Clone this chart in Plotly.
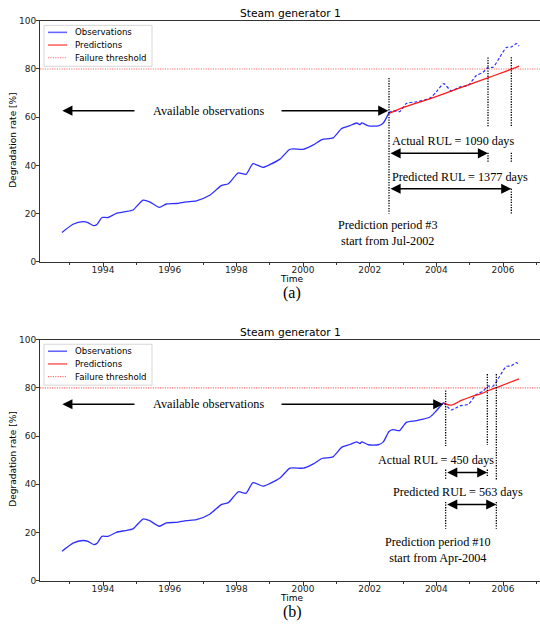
import plotly.graph_objects as go

# ---------------- data ----------------
obs_years = [1992.77, 1993.10, 1993.40, 1993.55, 1993.72, 1993.82, 1993.97, 1994.15, 1994.40, 1994.66,
             1994.90, 1995.20, 1995.40, 1995.69, 1995.90, 1996.20, 1996.50, 1996.80, 1997.20, 1997.56,
             1997.76, 1998.06, 1998.29, 1998.50, 1998.80, 1999.00, 1999.31, 1999.61, 2000.01, 2000.31,
             2000.57, 2000.90, 2001.16, 2001.41, 2001.61, 2001.71, 2001.76, 2001.96, 2002.26, 2002.41,
             2002.58, 2002.70, 2002.90, 2003.10, 2003.40, 2003.80, 2004.00, 2004.22, 2004.45, 2004.70,
             2004.96, 2005.20, 2005.40, 2005.55, 2005.70, 2005.90, 2006.10, 2006.25, 2006.40, 2006.48]
obs_values = [12.2, 15.6, 16.7, 16.3, 15.0, 15.5, 18.4, 18.4, 20.1, 20.8,
              21.5, 25.6, 24.9, 22.6, 24.0, 24.2, 24.9, 25.3, 27.6, 31.7,
              32.4, 36.9, 36.3, 40.7, 39.2, 40.3, 42.6, 46.7, 46.7, 48.5,
              50.7, 51.4, 55.3, 56.5, 57.6, 56.9, 57.6, 56.4, 56.4, 57.6,
              61.9, 62.7, 62.3, 65.7, 66.4, 67.8, 70.5, 73.9, 70.9, 72.5,
              73.2, 77.3, 78.6, 80.7, 80.7, 84.8, 88.9, 89.1, 90.5, 89.5]

pred_a_years = [2002.58, 2003.0, 2003.8, 2004.6, 2005.5, 2006.0, 2006.25, 2006.48]
pred_a_values = [61.6, 64.0, 67.6, 71.6, 76.1, 78.6, 79.9, 81.2]
pred_b_years = [2004.22, 2004.45, 2004.75, 2005.0, 2005.35, 2005.6, 2005.8, 2006.48]
pred_b_values = [73.7, 72.8, 74.8, 76.1, 77.6, 79.1, 80.1, 83.7]

failure_threshold = 80
start_a, start_b = 2002.58, 2004.22          # prediction period start (Jul-2002, Apr-2004)
actual_end_a, predicted_end_a = 2005.55, 2006.25   # 1090 / 1377 days
actual_end_b, predicted_end_b = 2005.53, 2005.80   # 450 / 563 days

x_tick_years = [1994, 1996, 1998, 2000, 2002, 2004, 2006]
y_ticks = [0, 20, 40, 60, 80, 100]

W, H = 540, 632
SANS = "DejaVu Sans"
SERIF = "Liberation Serif"
BLUE = "rgba(0,0,255,0.82)"
RED = "rgba(255,0,0,0.9)"
AX = "#333333"
DOTS = "1.3px,1.3px"


def py(p):
    return 1 - p / H


fig = go.Figure()

panels = [
    dict(xr="x", yr="y", top=16, start=start_a, act=actual_end_a, pre=predicted_end_a,
         pt=pred_a_years, pv=pred_a_values, avail_y=62.7, avail_head=2002.56,
         act_txt="Actual RUL = 1090 days", act_txt_xy=(2004.51, 50.3), act_arrow_y=45.0,
         pre_txt="Predicted RUL = 1377 days", pre_txt_xy=(2004.70, 35.4), pre_arrow_y=30.3,
         period_txt="Prediction period #3<br>start from Jul-2002", period_xy=(2002.56, 12.1),
         vlines=[(start_a, 76.3, 20.1), (actual_end_a, 84.8, 56.2), (actual_end_a, 45.3, 41.2),
                 (predicted_end_a, 84.9, 56.3), (predicted_end_a, 45.3, 41.2), (predicted_end_a, 30.3, 20.1)],
         label="(a)", label_y=293),
    dict(xr="x2", yr="y2", top=340, start=start_b, act=actual_end_b, pre=predicted_end_b,
         pt=pred_b_years, pv=pred_b_values, avail_y=73.2, avail_head=2004.21,
         act_txt="Actual RUL = 450 days", act_txt_xy=(2003.98, 50.1), act_arrow_y=44.9,
         pre_txt="Predicted RUL = 563 days", pre_txt_xy=(2004.66, 36.7), pre_arrow_y=31.6,
         period_txt="Prediction period #10<br>start from Apr-2004", period_xy=(2004.06, 12.9),
         vlines=[(2004.28, 78.9, 55.9), (2004.28, 46.1, 42.0), (2004.28, 32.7, 21.6),
                 (actual_end_b, 85.7, 56.3), (actual_end_b, 46.1, 42.9),
                 (predicted_end_b, 85.7, 42.0), (predicted_end_b, 32.7, 21.6)],
         label="(b)", label_y=617),
]

annotations = []
shapes = []

for p in panels:
    xr, yr = p["xr"], p["yr"]
    s = p["start"]
    solid_t = [t for t in obs_years if t <= s]
    solid_v = [v for t, v in zip(obs_years, obs_values) if t <= s]
    dash_t = [t for t in obs_years if t >= solid_t[-1]]
    dash_v = [v for t, v in zip(obs_years, obs_values) if t >= solid_t[-1]]
    fig.add_trace(go.Scatter(x=solid_t, y=solid_v, mode="lines", xaxis=xr, yaxis=yr, hoverinfo="skip",
                             line=dict(color=BLUE, width=1.3, shape="spline", smoothing=0.6)))
    fig.add_trace(go.Scatter(x=dash_t, y=dash_v, mode="lines", xaxis=xr, yaxis=yr, hoverinfo="skip",
                             line=dict(color=BLUE, width=1.2, dash="3px,2px", shape="spline", smoothing=0.6)))
    fig.add_trace(go.Scatter(x=p["pt"], y=p["pv"], mode="lines", xaxis=xr, yaxis=yr, hoverinfo="skip",
                             line=dict(color=RED, width=1.3, shape="spline", smoothing=0.6)))

    # failure threshold
    shapes.append(dict(type="line", xref=xr + " domain", yref=yr, x0=0, x1=1,
                       y0=failure_threshold, y1=failure_threshold,
                       line=dict(color="rgba(255,0,0,0.55)", width=1.1, dash="1.2px,1.2px")))
    # dotted vertical markers
    for (xv, y0, y1) in p["vlines"]:
        shapes.append(dict(type="line", xref=xr, yref=yr, x0=xv, x1=xv, y0=y0, y1=y1,
                           line=dict(color="black", width=1.3, dash=DOTS)))

    def arrow(x, y, ax, ay, both=False):
        d = dict(x=x, y=y, ax=ax, ay=ay, xref=xr, yref=yr, axref=xr, ayref=yr, text="",
                 showarrow=True, arrowhead=2, arrowsize=1.35, arrowwidth=1.5, arrowcolor="black",
                 standoff=0, startstandoff=0)
        if both:
            d.update(arrowside="end+start", startarrowhead=2, startarrowsize=1.35)
        return d

    def text(x, y, t, size=12.2):
        return dict(x=x, y=y, xref=xr, yref=yr, text=t, showarrow=False,
                    font=dict(family=SERIF, size=size, color="black"))

    ya = p["avail_y"]
    annotations.append(text(1997.15, ya, "Available observations"))
    annotations.append(arrow(1992.78, ya, 1994.99, ya))
    annotations.append(arrow(p["avail_head"], ya, 1999.31, ya))
    annotations.append(text(*p["act_txt_xy"], p["act_txt"]))
    annotations.append(text(*p["pre_txt_xy"], p["pre_txt"]))
    annotations.append(text(*p["period_xy"], p["period_txt"]))
    x_start_line = p["vlines"][0][0]
    annotations.append(arrow(p["act"], p["act_arrow_y"], x_start_line, p["act_arrow_y"], both=True))
    annotations.append(arrow(p["pre"], p["pre_arrow_y"], x_start_line, p["pre_arrow_y"], both=True))

    top = p["top"]
    # title, axis titles, panel label
    annotations.append(dict(xref="paper", yref="paper", x=290 / W, y=py(top - 7), text="Steam generator 1",
                            showarrow=False, font=dict(family=SANS, size=10.7, color="black"),
                            xanchor="center", yanchor="middle"))
    annotations.append(dict(xref="paper", yref="paper", x=13 / W, y=py(top + 122), text="Degradation rate [%]",
                            textangle=-90, showarrow=False, font=dict(family=SANS, size=9, color="black"),
                            xanchor="center", yanchor="middle"))
    annotations.append(dict(xref="paper", yref="paper", x=291 / W, y=py(top + 262.5), text="Time",
                            showarrow=False, font=dict(family=SANS, size=9, color="black"),
                            xanchor="center", yanchor="middle"))
    annotations.append(dict(xref="paper", yref="paper", x=292 / W, y=py(p["label_y"]), text=p["label"],
                            showarrow=False, font=dict(family=SERIF, size=16, color="black"),
                            xanchor="center", yanchor="middle"))

    # manual legend
    shapes.append(dict(type="rect", xref="paper", yref="paper", x0=44 / W, x1=152 / W,
                       y0=py(top + 46.3), y1=py(top + 4.7),
                       line=dict(color="#cccccc", width=0.8), fillcolor="rgba(255,255,255,0.85)"))
    legend_items = [("Observations", dict(color="rgba(0,0,255,0.6)", width=1.6)),
                    ("Predictions", dict(color="rgba(255,0,0,0.6)", width=1.6)),
                    ("Failure threshold", dict(color="rgba(255,0,0,0.55)", width=1.1, dash="1.2px,1.2px"))]
    for i, (name, ln) in enumerate(legend_items):
        yy = top + 11.8 + 12.9 * i
        shapes.append(dict(type="line", xref="paper", yref="paper", x0=48 / W, x1=67 / W,
                           y0=py(yy), y1=py(yy), line=ln))
        annotations.append(dict(xref="paper", yref="paper", x=73 / W, y=py(yy), text=name,
                                showarrow=False, xanchor="left", yanchor="middle",
                                font=dict(family=SANS, size=8.6, color="black")))

xcommon = dict(range=[1992.11, 2007.11], tickvals=x_tick_years, ticks="outside", ticklen=4, tickwidth=1,
               tickcolor=AX, showline=True, linecolor=AX, linewidth=1, mirror=True, showgrid=False,
               zeroline=False, tickfont=dict(family=SANS, size=9, color="#222"), ticklabelstandoff=-5,
               minor=dict(dtick=1, tick0=1993, ticks="outside", ticklen=2.5, tickcolor=AX, showgrid=False))
ycommon = dict(range=[0, 100], tickvals=y_ticks, ticks="outside", ticklen=3, tickwidth=1, tickcolor=AX,
               showline=True, linecolor=AX, linewidth=1, showgrid=False, zeroline=False,
               tickfont=dict(family=SANS, size=9, color="#222"), ticklabelstandoff=-2)

fig.update_layout(
    width=W, height=H, margin=dict(l=0, r=0, t=0, b=0),
    paper_bgcolor="white", plot_bgcolor="white", showlegend=False, hovermode=False,
    xaxis=dict(domain=[40 / W, 1.0], anchor="y", **xcommon),
    yaxis=dict(domain=[py(261), py(16)], anchor="x", **ycommon),
    xaxis2=dict(domain=[40 / W, 1.0], anchor="y2", **xcommon),
    yaxis2=dict(domain=[py(585), py(340)], anchor="x2", **ycommon),
    annotations=annotations, shapes=shapes,
)

fig.write_html("out.html", config={"displayModeBar": False},
               post_script="document.body.style.margin='0';document.body.style.padding='0';")
